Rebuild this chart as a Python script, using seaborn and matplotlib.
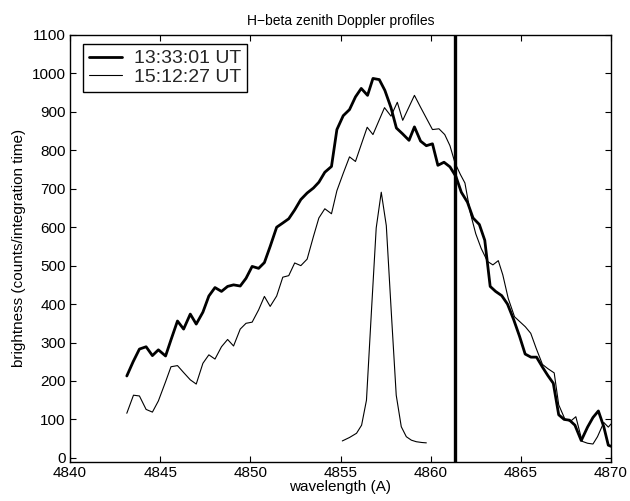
import numpy as np
import pandas as pd
import matplotlib
matplotlib.use("Agg")
import matplotlib.pyplot as plt
import seaborn as sns

# ---- data ----
wl_1333 = [4843.15, 4843.5, 4843.85, 4844.22, 4844.57, 4844.9, 4845.3, 4845.6, 4845.96, 4846.3,
           4846.67, 4847.0, 4847.37, 4847.7, 4848.04, 4848.4, 4848.74, 4849.07, 4849.44, 4849.76,
           4850.1, 4850.46, 4850.78, 4851.1, 4851.46, 4851.8, 4852.13, 4852.46, 4852.8, 4853.15,
           4853.5, 4853.8, 4854.13, 4854.5, 4854.8, 4855.15, 4855.5, 4855.83, 4856.15, 4856.5,
           4856.8, 4857.15, 4857.46, 4857.8, 4858.1, 4858.44, 4858.8, 4859.1, 4859.44, 4859.76,
           4860.1, 4860.4, 4860.74, 4861.07, 4861.4, 4861.7, 4862.04, 4862.35, 4862.7, 4863.0,
           4863.3, 4863.6, 4863.94, 4864.26, 4864.6, 4864.93, 4865.24, 4865.56, 4865.87, 4866.2,
           4866.5, 4866.8, 4867.1, 4867.4, 4867.7, 4868.0, 4868.35, 4868.7, 4869.0, 4869.3,
           4869.6, 4869.85, 4870.0]
br_1333 = [213, 250, 283, 289, 266, 281, 265, 307, 356, 335,
           374, 348, 379, 421, 443, 433, 446, 450, 447, 467,
           498, 493, 508, 550, 600, 611, 622, 645, 672, 689,
           702, 717, 743, 758, 854, 890, 906, 939, 961, 943,
           987, 984, 956, 911, 858, 843, 826, 861, 824, 812,
           817, 761, 769, 757, 732, 691, 665, 624, 607, 566,
           446, 433, 422, 400, 360, 316, 270, 262, 262, 236,
           214, 194, 112, 100, 98, 85, 45, 80, 105, 122,
           81, 33, 30]

wl_1512 = [4843.15, 4843.52, 4843.85, 4844.22, 4844.57, 4844.9, 4845.3, 4845.6, 4845.96, 4846.3,
           4846.67, 4847.0, 4847.37, 4847.7, 4848.04, 4848.4, 4848.74, 4849.07, 4849.44, 4849.76,
           4850.1, 4850.46, 4850.78, 4851.1, 4851.46, 4851.8, 4852.13, 4852.46, 4852.8, 4853.15,
           4853.5, 4853.8, 4854.13, 4854.5, 4854.8, 4855.15, 4855.5, 4855.83, 4856.15, 4856.48,
           4856.8, 4857.12, 4857.44, 4857.8, 4858.15, 4858.45, 4858.77, 4859.1, 4859.43, 4859.77,
           4860.1, 4860.46, 4860.78, 4861.07, 4861.35, 4861.65, 4861.9, 4862.2, 4862.5, 4862.8,
           4863.15, 4863.45, 4863.75, 4864.0, 4864.3, 4864.65, 4864.95, 4865.25, 4865.55, 4865.85,
           4866.2, 4866.5, 4866.85, 4867.1, 4867.45, 4867.75, 4868.05, 4868.4, 4868.7, 4869.0,
           4869.25, 4869.6, 4869.85, 4870.0]
br_1512 = [116, 163, 161, 126, 119, 148, 198, 237, 240, 222,
           203, 192, 246, 268, 257, 289, 308, 291, 335, 350,
           353, 385, 420, 394, 421, 470, 474, 507, 500, 517,
           576, 624, 648, 635, 695, 740, 783, 771, 815, 860,
           841, 876, 911, 889, 925, 878, 910, 943, 913, 883,
           854, 856, 841, 812, 767, 737, 715, 637, 583, 545,
           511, 502, 513, 476, 415, 367, 354, 341, 324, 285,
           243, 232, 221, 138, 100, 95, 107, 43, 38, 36,
           55, 92, 80, 88]

wl_instr = [4855.1, 4855.5, 4855.89, 4856.17, 4856.44, 4856.72, 4856.98, 4857.26, 4857.54,
            4857.82, 4858.09, 4858.37, 4858.65, 4858.93, 4859.2, 4859.5, 4859.76]
br_instr = [44, 53, 64, 85, 150, 385, 598, 691, 604, 376, 163, 81, 55, 46, 42, 40, 39]

hbeta_wl = 4861.33
labels = ["13:33:01 UT", "15:12:27 UT"]
x_ticks = [4840, 4845, 4850, 4855, 4860, 4865, 4870]
y_ticks = list(range(0, 1101, 100))

# ---- style ----
sns.set_theme(style="white")
plt.rcParams["font.family"] = ["Liberation Sans", "DejaVu Sans"]

fig = plt.figure(figsize=(6.3, 5.01), dpi=100)
ax = fig.add_axes([70 / 630, 1 - 461.7 / 501, (611 - 70) / 630, (461.7 - 35) / 501])

df1 = pd.DataFrame({"wl": wl_1333, "br": br_1333})
df2 = pd.DataFrame({"wl": wl_1512, "br": br_1512})
df3 = pd.DataFrame({"wl": wl_instr, "br": br_instr})

sns.lineplot(data=df1, x="wl", y="br", ax=ax, color="black", linewidth=2.0, label=labels[0], sort=False)
sns.lineplot(data=df2, x="wl", y="br", ax=ax, color="black", linewidth=0.8, label=labels[1], sort=False)
sns.lineplot(data=df3, x="wl", y="br", ax=ax, color="black", linewidth=0.8, legend=False, sort=False)
ax.axvline(hbeta_wl, color="black", linewidth=2.4)

ax.set_xlim(4840, 4870)
ax.set_ylim(-10, 1100)
ax.set_xticks(x_ticks)
ax.set_yticks(y_ticks)
ax.tick_params(direction="in", length=4, width=0.8, top=True, right=True,
               bottom=True, left=True, labelsize=11, colors="black", pad=3)
for s in ax.spines.values():
    s.set_color("black")
    s.set_linewidth(1.0)

ax.set_title("H\u2212beta zenith Doppler profiles", fontsize=10, color="black", pad=7)
ax.set_xlabel("wavelength (A)", fontsize=11, color="black", labelpad=0)
ax.set_ylabel("brightness (counts/integration time)", fontsize=11, color="black", labelpad=4)

leg = ax.legend(loc="upper left", bbox_to_anchor=(0.024, 0.979), borderaxespad=0,
                fontsize=14, frameon=True, fancybox=False, edgecolor="black",
                framealpha=1, handlelength=1.7, handletextpad=0.6, borderpad=0.3,
                labelspacing=0.05)
leg.get_frame().set_linewidth(1.0)

fig.savefig("out.png", dpi=100, facecolor="white")
